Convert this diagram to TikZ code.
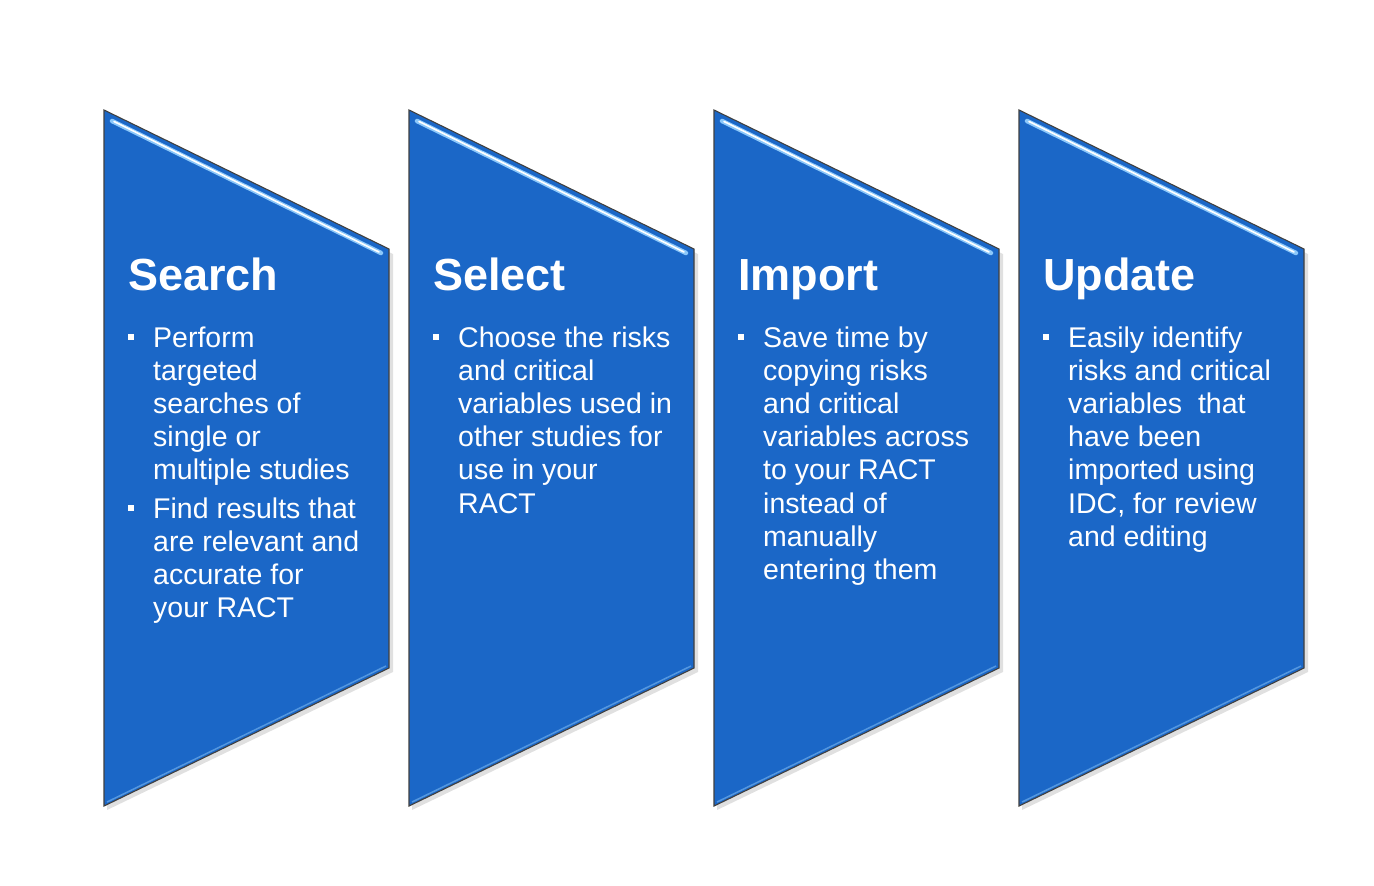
\documentclass[tikz,border=0pt]{standalone}
\usepackage{fontspec}
\setmainfont{Liberation Sans}
\usetikzlibrary{positioning}

\definecolor{panelblue}{RGB}{27,103,199}
\definecolor{glosscol}{RGB}{140,200,250}

\newcommand{\lines}[1]{\begin{tabular}[t]{@{}l@{}}#1\end{tabular}}

\begin{document}
\begin{tikzpicture}[
  x=1pt, y=-1pt,
  panel/.style={draw=black!75, line width=1.1pt, fill=panelblue, line join=miter},
  shade/.style={fill=black, opacity=0.12},
  gloss/.style={draw=glosscol, line width=4.5pt, line cap=round},
  shine/.style={draw=white, line width=1.6pt, line cap=round},
  rim/.style={draw=glosscol, line width=1.5pt, opacity=0.5},
  title/.style={anchor=base west, inner sep=0pt, text=white, font=\fontsize{45}{50}\selectfont\bfseries},
  item/.style={anchor=base west, inner sep=0pt, text=white, font=\fontsize{28.5}{33.2}\selectfont},
  dot/.style={fill=white, minimum size=5.5pt, inner sep=0pt}
]
\useasboundingbox[fill=white] (0,0) rectangle (1374,886);

% the four step panels
\foreach \dx in {0,305,610,915} {
  \fill[shade] (107+\dx,114) -- (393+\dx,254) -- (393+\dx,672) -- (107+\dx,810) -- cycle;
  \draw[panel] (104+\dx,110) -- (389+\dx,249) -- (389+\dx,668) -- (104+\dx,806) -- cycle;
  \draw[rim] (107+\dx,802) -- (386+\dx,666);
  \draw[gloss] (112+\dx,121) -- (381+\dx,253);
  \draw[shine] (114+\dx,121.5) -- (379+\dx,252);
}

% Search
\node[title] (search) at (128,290) {Search};
\node[dot] (searchB1) at (131,337) {};
\node[item] (searchI1) at (153,347) {\lines{Perform\\targeted\\searches of\\single or\\multiple studies}};
\node[dot] (searchB2) at (131,508) {};
\node[item] (searchI2) at (153,518) {\lines{Find results that\\are relevant and\\accurate for\\your RACT}};

% Select
\node[title] (select) at (433,290) {Select};
\node[dot] (selectB1) at (436,337) {};
\node[item] (selectI1) at (458,347) {\lines{Choose the risks\\and critical\\variables used in\\other studies for\\use in your\\RACT}};

% Import
\node[title] (import) at (738,290) {Import};
\node[dot] (importB1) at (741,337) {};
\node[item] (importI1) at (763,347) {\lines{Save time by\\copying risks\\and critical\\variables across\\to your RACT\\instead of\\manually\\entering them}};

% Update
\node[title] (update) at (1043,290) {Update};
\node[dot] (updateB1) at (1046,337) {};
\node[item] (updateI1) at (1068,347) {\lines{Easily identify\\risks and critical\\variables\ \ that\\have been\\imported using\\IDC, for review\\and editing}};

\end{tikzpicture}
\end{document}
